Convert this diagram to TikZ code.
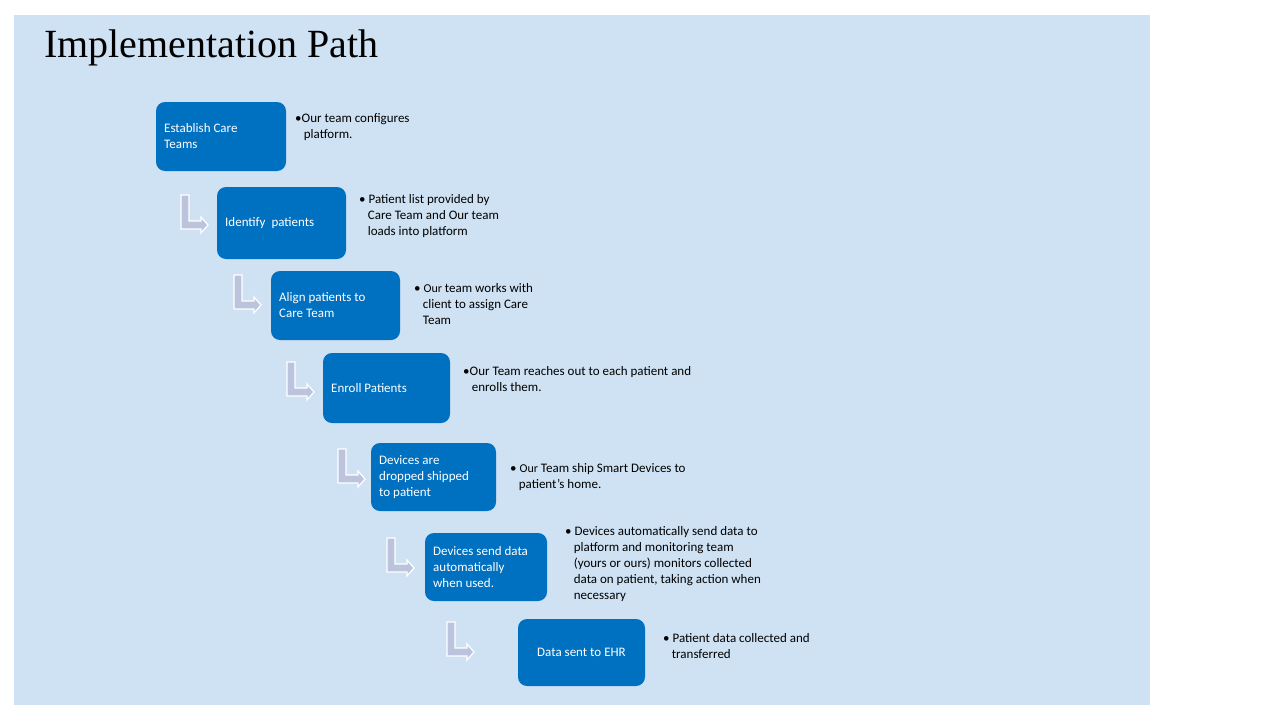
\documentclass[tikz,border=0pt]{standalone}
\usepackage{fontspec}
\setmainfont{Carlito}
\newfontfamily\titlefont{Liberation Serif}
\definecolor{bgblue}{HTML}{CFE2F3}
\definecolor{boxblue}{HTML}{0070C0}
\definecolor{arrowfill}{HTML}{BCC3DC}
\tikzset{
  desc/.style={anchor=north west, align=left, font=\fontsize{13}{16}\selectfont, inner sep=0pt},
  bentarrow/.style={fill=arrowfill, draw=white, line width=1.2pt, line join=miter}
}
\newcommand{\bentarr}[2]{%
  \begin{scope}[shift={(#1,#2)}]
    \draw[bentarrow] (0,0) -- (8,0) -- (8,26) -- (20,26) -- (20,22) -- (27,30) -- (20,38) -- (20,34) -- (0,34) -- cycle;
  \end{scope}}
\newcommand{\stepbx}[5]{%
  \path[fill=boxblue, rounded corners=9pt] (#1,#2) rectangle (#3,#4);
  \node[text=white, font=\fontsize{13}{16}\selectfont, align=left, anchor=west, inner sep=0pt] at ({#1+8},{(#2+#4)/2}) {#5};}
\newcommand{\hb}{\hphantom{\textbullet\,}}
\begin{document}
\begin{tikzpicture}[x=1pt,y=-1pt]
\useasboundingbox (0,0) rectangle (1280,720);
\fill[white] (0,0) rectangle (1280,720);
\fill[bgblue] (14,15) rectangle (1150,705);
\node[anchor=west, inner sep=0pt, font=\titlefont\fontsize{40}{44}\selectfont] (title) at (44,48) {Implementation Path};

\stepbx{156}{102}{286}{171}{Establish Care\\Teams}
\stepbx{217}{187}{346}{259}{Identify\ \ patients}
\stepbx{271}{271}{400}{340}{Align patients to\\Care Team}
\stepbx{323}{353}{450}{423}{Enroll Patients}
\stepbx{371}{443}{496}{511}{Devices are\\dropped shipped\\to patient}
\stepbx{425}{533}{547}{601}{Devices send data\\automatically\\when used.}
\path[fill=boxblue, rounded corners=9pt] (518,619) rectangle (645,686);
\node[text=white, font=\fontsize{13}{16}\selectfont, inner sep=0pt] (b7) at (581.5,652.5) {Data sent to EHR};

\bentarr{181}{195}
\bentarr{234}{275}
\bentarr{287}{362}
\bentarr{338}{449}
\bentarr{387}{538}
\bentarr{447}{622}

\node[desc] (d1) at (295,113) {\textbullet Our team configures\\\hphantom{\textbullet}\,platform.};
\node[desc] (d2) at (359,194) {\textbullet\ Patient list provided by\\\hb Care Team and Our team\\\hb loads into platform};
\node[desc] (d3) at (414,283) {\textbullet\ {\fontsize{12}{16}\selectfont Our} team works with\\\hb client to assign Care\\\hb Team};
\node[desc] (d4) at (463,366) {\textbullet Our Team reaches out to each patient and\\\hphantom{\textbullet}\,enrolls them.};
\node[desc] (d5) at (510,463) {\textbullet\ {\fontsize{12}{16}\selectfont Our} Team ship Smart Devices to\\\hb patient's home.};
\node[desc] (d6) at (565,526) {\textbullet\ Devices automatically send data to\\\hb platform and monitoring team\\\hb (yours or ours) monitors collected\\\hb data on patient, taking action when\\\hb necessary};
\node[desc] (d7) at (663,633) {\textbullet\ Patient data collected and\\\hb transferred};
\end{tikzpicture}
\end{document}
